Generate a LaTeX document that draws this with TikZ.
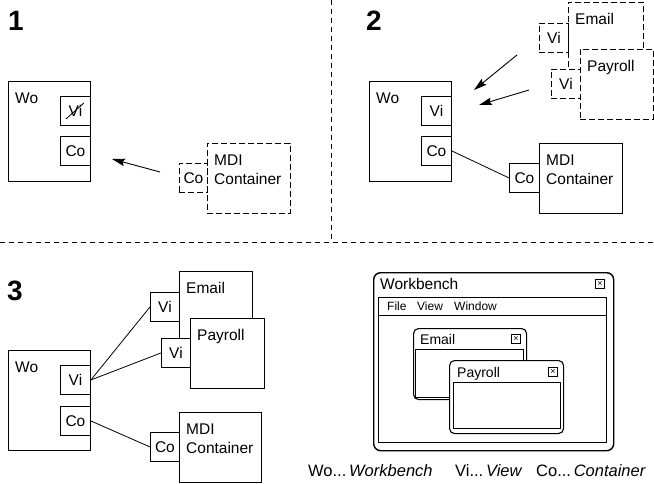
\documentclass[tikz,border=0pt]{standalone}
\usepackage{fontspec}
\setmainfont{Liberation Sans}
\usetikzlibrary{positioning,arrows.meta,calc}
\definecolor{mdInk}{HTML}{000000}
\tikzset{
  md-box/.style={draw=mdInk, line width=0.9pt, fill=white, inner sep=0pt,
    font=\fontsize{15.5}{19}\selectfont, anchor=north west},
  md-dash/.style={dash pattern=on 6pt off 3pt},
  md-tab/.style={md-box, minimum width=30pt, minimum height=29pt},
  md-lbl/.style={anchor=north west, inner sep=0pt, xshift=7pt, yshift=-11.5pt,
    align=left, font=\fontsize{15.5}{19}\selectfont},
  md-link/.style={draw=mdInk, line width=0.8pt},
  md-move/.style={-{Stealth[length=13pt,width=7.5pt,inset=2pt]}, line width=0.9pt},
  md-num/.style={anchor=base west, inner sep=0pt,
    font=\fontsize{28}{30}\selectfont\bfseries},
  md-sep/.style={line width=0.7pt, dash pattern=on 5pt off 4pt},
  md-win/.style={draw=mdInk, fill=white, line width=1.1pt, rounded corners=5pt,
    anchor=north west, inner sep=0pt},
  md-pane/.style={draw=mdInk, line width=0.9pt, anchor=north west, inner sep=0pt},
  md-close/.style={draw=mdInk, line width=0.7pt, minimum size=9pt, inner sep=0pt,
    font=\fontsize{9}{9}\selectfont},
  md-title/.style={anchor=base west, inner sep=0pt, font=\fontsize{14}{16}\selectfont},
  md-menu/.style={anchor=base west, inner sep=0pt, font=\fontsize{12}{14}\selectfont},
  md-key/.style={anchor=base west, inner sep=0pt, font=\fontsize{16.5}{18}\selectfont}
}
\begin{document}
\begin{tikzpicture}[x=1pt, y=-1pt]
\useasboundingbox (0,0) rectangle (654,484);

% separators
\draw[md-sep] (331,0) -- (331,242);
\draw[md-sep] (0,242) -- (654,242);

% 1: container leaves, view gone
\node[md-num] (n1) at (8,31) {1};
\node[md-box, minimum width=82pt, minimum height=100pt,
  label={[md-lbl]north west:Wo}] (wo1) at (8,81) {};
\node[md-tab] (vi1) at (60,96) {Vi};
\node[md-tab] (co1) at (60,136) {Co};
\draw[line width=0.8pt] ($(vi1.south west)+(6,-7)$) -- ($(vi1.north east)+(-7,7)$);
\node[md-box, md-dash, minimum width=83pt, minimum height=70pt,
  label={[md-lbl]north west:MDI\\Container}] (mdi1) at (207,143) {};
\node[md-tab, md-dash, minimum width=28pt] (cob1) at (179,163) {Co};
\coordinate (a1s) at (160,172);
\coordinate (a1e) at (112,159);
\draw[md-move] (a1s) -- (a1e);

% 2: views come in
\node[md-num] (n2) at (366,31) {2};
\node[md-box, minimum width=82pt, minimum height=100pt,
  label={[md-lbl]north west:Wo}] (wo2) at (369,81) {};
\node[md-tab] (vi2) at (421,96) {Vi};
\node[md-tab] (co2) at (421,136) {Co};
\node[md-box, minimum width=83pt, minimum height=70pt,
  label={[md-lbl]north west:MDI\\Container}] (mdi2) at (539,143) {};
\node[md-tab] (cob2) at (509,163) {Co};
\draw[md-link] (co2.east) -- (cob2.west);
\node[md-box, md-dash, minimum width=75pt, minimum height=70pt,
  label={[md-lbl]north west:Email}] (em2) at (568,2) {};
\node[md-tab, md-dash, minimum width=29pt] (vie2) at (539,23) {Vi};
\node[md-box, md-dash, minimum width=73pt, minimum height=70pt,
  label={[md-lbl]north west:Payroll}] (pay2) at (580,49) {};
\node[md-tab, md-dash, minimum width=29pt] (vip2) at (551,69) {Vi};
\coordinate (a2s) at (517,55);
\coordinate (a2e) at (474,90);
\coordinate (a3s) at (529,90);
\coordinate (a3e) at (479,105);
\draw[md-move] (a2s) -- (a2e);
\draw[md-move] (a3s) -- (a3e);

% 3: all linked
\node[md-num] (n3) at (7,300) {3};
\node[md-box, minimum width=82pt, minimum height=100pt,
  label={[md-lbl]north west:Wo}] (wo3) at (8,350) {};
\node[md-tab] (vi3) at (60,365) {Vi};
\node[md-tab] (co3) at (60,406) {Co};
\node[md-box, minimum width=73pt, minimum height=70pt,
  label={[md-lbl]north west:Email}] (em3) at (179,271) {};
\node[md-tab, minimum width=29pt] (vie3) at (150,292) {Vi};
\node[md-box, minimum width=74pt, minimum height=70pt,
  label={[md-lbl]north west:Payroll}] (pay3) at (190,318) {};
\node[md-tab, minimum width=29pt] (vip3) at (161,338) {Vi};
\node[md-box, minimum width=82pt, minimum height=70pt,
  label={[md-lbl]north west:MDI\\Container}] (mdi3) at (179,412) {};
\node[md-tab, minimum width=29pt] (cob3) at (150,432) {Co};
\draw[md-link] (vi3.east) -- (vie3.west);
\draw[md-link] (vi3.east) -- (vip3.west);
\draw[md-link] (co3.east) -- (cob3.west);

% the workbench window
\node[md-win, line width=1.4pt, rounded corners=7pt,
  minimum width=240pt, minimum height=178pt] (wb) at (373,272) {};
\node[md-title, font=\fontsize{15.5}{17}\selectfont] (wbt) at (380,289) {Workbench};
\node[md-close] (wbx) at (600,284) {×};
\node[md-pane, minimum width=228pt, minimum height=18pt] (menu) at (378,297) {};
\node[md-pane, minimum width=228pt, minimum height=127pt] (client) at (378,315) {};
\node[md-menu] (mfile) at (387,310) {File};
\node[md-menu] (mview) at (417,310) {View};
\node[md-menu] (mwin) at (454,310) {Window};

\node[md-win, minimum width=113pt, minimum height=71pt] (emw) at (413,328) {};
\node[md-title] (emt) at (420,344) {Email};
\node[md-close] (emx) at (516,339) {×};
\node[md-pane, minimum width=108pt, minimum height=48pt] (emp) at (415,349) {};

\node[md-win, minimum width=114pt, minimum height=73pt] (payw) at (449,360) {};
\node[md-title] (payt) at (457,377) {Payroll};
\node[md-close] (payx) at (553,372) {×};
\node[md-pane, minimum width=107pt, minimum height=46pt] (payp) at (453,382) {};

% key
\node[md-key] (k1) at (308,476) {Wo...\,\textit{Workbench}};
\node[md-key] (k2) at (455,476) {Vi...\,\textit{View}};
\node[md-key] (k3) at (536,476) {Co...\,\textit{Container}};
\end{tikzpicture}
\end{document}
